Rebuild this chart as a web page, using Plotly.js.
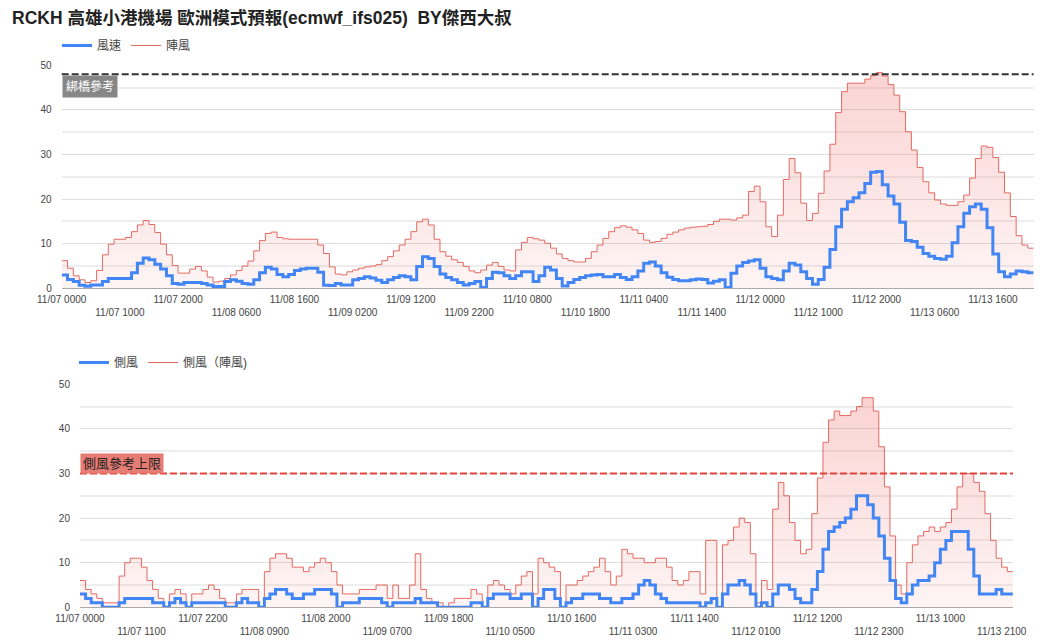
<!DOCTYPE html>
<html><head><meta charset="utf-8">
<script src="https://cdn.plot.ly/plotly-3.0.1.min.js"></script>
<style>html,body{margin:0;padding:0;background:#fff}#chart{width:1049px;height:644px}</style>
</head><body><div id="chart"></div><script>
// hourly categories 11/07 0000 .. 11/13 2300
const times = [];
for (let d = 7; d <= 13; d++) { for (let h = 0; h < 24; h++) { times.push('11/' + String(d).padStart(2,'0') + ' ' + String(h).padStart(2,'0') + '00'); } }

// top chart: wind speed / gust
const windSpeed = [
 3.0,2.0,1.5,0.7,0.45,0.75,0.75,1.5,2.2,2.2,
 2.2,2.2,3.5,5.6,6.8,6.4,5.4,4.3,2.8,1.1,
 0.9,1.3,1.3,1.3,1.1,0.75,0.4,0.4,1.5,1.9,
 1.6,1.1,0.9,1.9,3.5,4.7,4.3,3.1,2.6,3.1,
 4.0,4.3,4.5,4.5,3.6,0.7,0.6,1.1,0.75,0.75,
 1.9,2.2,2.6,2.3,1.8,1.3,1.9,2.4,2.8,2.6,
 1.9,4.9,7.1,6.7,4.9,3.2,2.4,1.9,1.3,0.75,
 1.1,1.5,0.2,2.2,3.6,3.5,2.8,2.2,2.8,3.7,
 3.7,1.5,2.8,4.7,4.1,2.2,0.5,1.3,2.0,2.4,
 2.8,3.0,3.1,2.6,2.6,3.1,2.4,2.0,2.6,3.9,
 5.6,5.9,5.0,3.5,2.5,2.0,1.7,1.7,1.9,2.1,
 2.0,1.2,1.6,1.9,0.2,3.4,5.0,5.8,6.1,6.4,
 4.5,2.6,2.2,1.9,3.9,5.6,5.2,3.7,2.2,0.9,
 2.0,4.7,8.7,13.8,17.7,19.4,20.3,21.4,23.5,26.0,
 26.2,23.2,20.7,18.9,14.8,10.7,10.5,9.2,7.8,7.2,
 6.7,6.5,7.2,10.2,13.8,16.8,18.3,18.9,17.7,13.6,
 7.7,3.7,2.6,3.2,3.9,3.7,3.5,3.5];
const windGust = [
 6.2,4.5,2.8,1.9,1.3,1.7,4.0,7.5,9.9,11.0,
 11.0,11.4,12.7,14.2,15.2,14.3,12.5,9.9,7.5,5.1,
 3.4,3.4,4.3,4.9,3.9,2.5,1.4,1.6,2.2,3.0,
 4.0,5.0,6.1,8.4,10.7,12.3,12.6,11.4,11.1,11.0,
 11.0,11.0,11.0,11.0,9.7,7.8,4.8,3.2,3.0,3.7,
 4.1,4.5,4.8,5.0,5.3,6.2,7.1,8.4,9.7,11.0,
 12.7,14.9,15.5,14.2,11.0,8.2,7.2,6.4,5.8,4.9,
 3.9,3.5,4.1,5.2,5.8,4.9,4.1,3.9,8.6,10.3,
 11.4,11.1,10.8,10.1,9.0,7.7,6.7,6.2,5.9,5.9,
 6.7,8.2,9.7,11.2,12.7,13.6,14.0,13.7,13.1,12.3,
 10.8,10.3,10.5,11.2,12.1,12.6,13.1,13.5,13.7,13.8,
 13.9,14.3,15.0,15.5,15.5,15.3,15.8,16.4,21.7,22.9,
 19.4,13.8,11.6,16.4,24.4,29.1,25.9,19.1,15.2,16.8,
 21.3,26.3,32.3,39.4,44.1,46.0,46.0,46.0,46.9,47.7,
 48.4,47.6,45.7,43.3,39.6,35.1,31.0,27.1,23.9,21.4,
 19.8,18.9,18.6,18.6,19.4,20.9,24.7,29.1,31.9,31.6,
 29.3,26.0,21.4,16.1,11.8,9.7,9.0,9.0];

// bottom chart: crosswind / crosswind gust
const crossWind = [
 3,2,1,1,0,0,0,1,2,2,
 2,2,2,1,1,0,1,2,1,0,
 1,1,1,1,1,1,0,0,1,2,
 1,1,0,2,3,4,4,3,2,2,
 3,3,4,4,4,3,0,1,1,1,
 2,2,2,2,1,0,1,1,1,1,
 2,1,1,1,0,0,0,0,0,0,
 1,1,0,2,3,3,3,2,2,3,
 3,0,2,4,4,2,0,1,2,2,
 3,3,3,2,2,1,1,2,2,3,
 5,6,5,3,2,1,1,1,1,1,
 1,0,1,2,0,3,5,5,6,5,
 3,0,1,0,3,5,5,4,2,1,
 1,4,8,13,17,18,19,20,22,25,
 25,23,20,16,11,6,2,1,3,5,
 6,6,7,10,13,15,17,17,17,13,
 7,3,3,3,4,3,3,3];
const crossGust = [
 6,4,3,2,1,1,1,7,10,11,
 11,9,6,4,2,0,3,4,3,0,
 3,3,4,5,4,2,1,1,3,4,
 4,4,0,8,11,12,12,11,9,9,
 8,9,10,11,10,8,5,3,3,3,
 4,4,4,5,5,2,5,2,2,5,
 12,4,2,1,1,0,1,2,2,2,
 4,3,0,5,6,5,4,3,5,7,
 8,3,11,10,9,8,0,5,5,6,
 7,8,9,11,8,5,7,13,12,11,
 11,10,10,11,11,9,6,5,6,8,
 8,3,15,15,0,14,15,18,20,19,
 12,1,6,4,22,28,25,19,15,12,
 13,21,29,37,42,44,43,43,44,45,
 47,47,44,36,27,16,5,3,10,14,
 16,17,18,17,18,19,22,27,30,30,
 28,26,21,15,11,9,8,8];

const topTickLabels = ['11/07 0000','11/07 1000','11/07 2000','11/08 0600','11/08 1600','11/09 0200','11/09 1200','11/09 2200','11/10 0800','11/10 1800','11/11 0400','11/11 1400','11/12 0000','11/12 1000','11/12 2000','11/13 0600','11/13 1600'];
const bottomTickLabels = ['11/07 0000','11/07 1100','11/07 2200','11/08 0900','11/08 2000','11/09 0700','11/09 1800','11/10 0500','11/10 1600','11/11 0300','11/11 1400','11/12 0100','11/12 1200','11/12 2300','11/13 1000','11/13 2100'];

const bridgeRef = 48;      // 綁橋參考
const crossLimit = 30;     // 側風參考上限

const idx = times.map((t, i) => i);
const row = (labels, parity) => labels.filter((l, i) => i % 2 === parity);
const pos = labels => labels.map(l => times.indexOf(l));

const FONT = 'Liberation Sans, Arial, "Noto Sans CJK TC", sans-serif';
const BLUE = '#4285f4', RED = '#e36a62';
const grad = {type: 'vertical', colorscale: [[0, 'rgba(235,80,75,0.06)'], [1, 'rgba(235,80,75,0.25)']]};

const legendLine = (name, color, width, legend, rank) => ({
  x: [null], y: [null], name: name, mode: 'lines', line: {color: color, width: width},
  xaxis: legend === 'legend' ? 'x' : 'x2', yaxis: legend === 'legend' ? 'y' : 'y2',
  legend: legend, legendrank: rank, hoverinfo: 'skip'
});

const traces = [
  {x: idx, y: windGust, name: '陣風', mode: 'lines', line: {shape: 'hv', color: RED, width: 1}, fill: 'tozeroy', fillgradient: grad, xaxis: 'x', yaxis: 'y', showlegend: false, hoverinfo: 'skip'},
  {x: idx, y: windSpeed, name: '風速', mode: 'lines', line: {shape: 'hv', color: BLUE, width: 3}, xaxis: 'x', yaxis: 'y', legend: 'legend', legendrank: 1, hoverinfo: 'skip'},
  legendLine('陣風', RED, 1, 'legend', 2),
  {x: idx, y: crossGust, name: '側風（陣風)', mode: 'lines', line: {shape: 'hv', color: RED, width: 1}, fill: 'tozeroy', fillgradient: grad, xaxis: 'x2', yaxis: 'y2', showlegend: false, hoverinfo: 'skip'},
  {x: idx, y: crossWind, name: '側風', mode: 'lines', line: {shape: 'hv', color: BLUE, width: 3}, xaxis: 'x2', yaxis: 'y2', legend: 'legend2', legendrank: 1, hoverinfo: 'skip'},
  legendLine('側風（陣風)', RED, 1, 'legend2', 2),
  {x: [0, idx.length - 1], y: [null, null], xaxis: 'x3', yaxis: 'y', mode: 'lines', showlegend: false, hoverinfo: 'skip'},
  {x: [0, idx.length - 1], y: [null, null], xaxis: 'x4', yaxis: 'y2', mode: 'lines', showlegend: false, hoverinfo: 'skip'}
];

const last = idx.length - 1;
const tickFont = {family: FONT, size: 10, color: '#444'};
const xBase = (domain, anchor, labels) => ({
  domain: domain, anchor: anchor, range: [0, last], showgrid: false, zeroline: false,
  showline: true, linecolor: '#aaaaaa', linewidth: 1, ticks: '',
  tickmode: 'array', tickvals: pos(row(labels, 0)), ticktext: row(labels, 0),
  tickfont: tickFont, ticklabelstandoff: 2, fixedrange: true
});
const xOver = (over, anchor, labels) => ({
  overlaying: over, anchor: anchor, range: [0, last], showgrid: false, zeroline: false,
  showline: false, ticks: '', tickmode: 'array', tickvals: pos(row(labels, 1)), ticktext: row(labels, 1),
  tickfont: tickFont, ticklabelstandoff: 17, fixedrange: true
});
const yAx = (domain, anchor) => ({
  domain: domain, anchor: anchor, range: [0, 50], dtick: 10, tick0: 0,
  showgrid: true, gridcolor: '#dedede', gridwidth: 1, zeroline: false,
  minor: {dtick: 5, showgrid: true, gridcolor: '#eeeeee', gridwidth: 2},
  ticks: '', tickfont: tickFont, ticklabelstandoff: 9, fixedrange: true
});

const layout = {
  width: 1049, height: 644, margin: {l: 0, r: 0, t: 0, b: 0},
  paper_bgcolor: '#fff', plot_bgcolor: '#fff',
  font: {family: FONT, color: '#444'},
  title: {text: 'RCKH 高雄小港機場 歐洲模式預報(ecmwf_ifs025)  BY傑西大叔', x: 12/1049, xanchor: 'left', xref: 'paper', y: 1 - 18/644, yanchor: 'middle', yref: 'paper',
          font: {family: FONT, size: 17.5, color: '#222', weight: 'bold'}},
  xaxis: xBase([0.05882, 0.98532], 'y', topTickLabels),
  xaxis3: xOver('x', 'y', topTickLabels),
  yaxis: yAx([0.55233, 0.89860], 'x'),
  xaxis2: xBase([0.07626, 0.96559], 'y2', bottomTickLabels),
  xaxis4: xOver('x2', 'y2', bottomTickLabels),
  yaxis2: yAx([0.05699, 0.40326], 'x2'),
  legend: {orientation: 'h', x: 57/1049, y: 1 - 31/644, xanchor: 'left', yanchor: 'top', font: {family: FONT, size: 12, color: '#444'}, bgcolor: 'rgba(0,0,0,0)', itemwidth: 30, traceorder: 'normal'},
  legend2: {orientation: 'h', x: 74/1049, y: 1 - 348/644, xanchor: 'left', yanchor: 'top', font: {family: FONT, size: 12, color: '#444'}, bgcolor: 'rgba(0,0,0,0)', itemwidth: 30, traceorder: 'normal'},
  shapes: [
    {type: 'line', xref: 'x domain', x0: 0, x1: 1, yref: 'y', y0: bridgeRef, y1: bridgeRef, line: {color: '#333', width: 2, dash: '7px,3px'}},
    {type: 'line', xref: 'x2 domain', x0: 0, x1: 1, yref: 'y2', y0: crossLimit, y1: crossLimit, line: {color: '#e0443a', width: 2, dash: '7px,3px'}}
  ],
  annotations: [
    {text: '綁橋參考', xref: 'x domain', x: 0, xanchor: 'left', yref: 'y', y: bridgeRef, yanchor: 'top', yshift: -1, showarrow: false,
     bgcolor: '#878787', borderpad: 3, font: {family: FONT, size: 12, color: '#fff'}},
    {text: '側風參考上限', xref: 'x2 domain', x: 0, xanchor: 'left', yref: 'y2', y: crossLimit, yanchor: 'bottom', yshift: 0, showarrow: false,
     bgcolor: '#e67c73', borderpad: 2, font: {family: FONT, size: 13, color: '#222'}}
  ],
  showlegend: true
};

Plotly.newPlot('chart', traces, layout, {displayModeBar: false, staticPlot: true});
</script></body></html>
